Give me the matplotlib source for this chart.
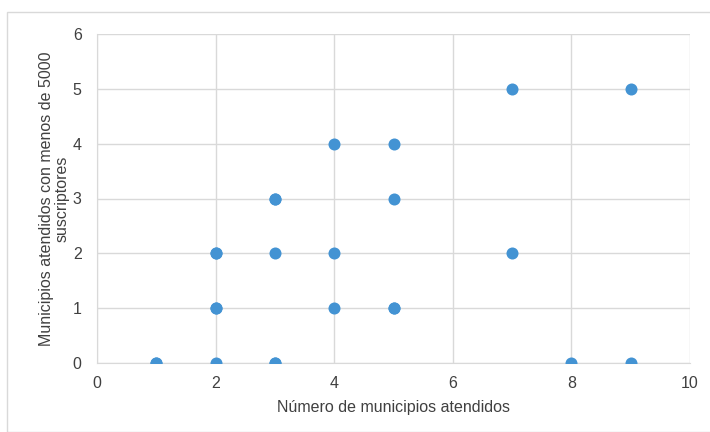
import matplotlib
matplotlib.use("Agg")
import matplotlib.pyplot as plt
from matplotlib.patches import Rectangle

plt.rcParams['font.family'] = ['Liberation Sans', 'DejaVu Sans']

x_vals = [1, 1, 2, 2, 2, 2, 2, 3, 3, 3, 3, 3, 4, 4, 4, 5, 5, 5, 5, 7, 7, 8, 9, 9]
y_vals = [0, 0, 0, 1, 1, 2, 2, 0, 0, 2, 3, 3, 1, 2, 4, 1, 1, 3, 4, 2, 5, 0, 0, 5]
x_ticks = [0, 2, 4, 6, 8, 10]
y_ticks = [0, 1, 2, 3, 4, 5, 6]
x_label = "Número de municipios atendidos"
y_label = "Municipios atendidos con menos de 5000\nsuscriptores"

fig = plt.figure(figsize=(7.10, 4.32), dpi=100)
fig.patches.append(Rectangle((7/710, 0), 1.2, 1 - 12/432, transform=fig.transFigure,
                             fill=False, edgecolor='#d9d9d9', linewidth=1.0))
ax = fig.add_axes([97/710, 1 - 363/432, (690-97)/710, (363-34)/432])

ax.scatter(x_vals, y_vals, s=75, color='#4393d3', zorder=3, linewidths=0)
ax.set_xlim(0, 10)
ax.set_ylim(0, 6)
ax.set_xticks(x_ticks)
ax.set_yticks(y_ticks)
ax.grid(True, color='#d9d9d9', linewidth=1.0)
ax.set_axisbelow(True)
for s in ['top', 'right']:
    ax.spines[s].set_visible(False)
for s in ['left', 'bottom']:
    ax.spines[s].set_color('#d9d9d9')
ax.tick_params(length=0, labelsize=11.5, colors='#404040', pad=9)
ax.tick_params(axis='y', pad=11)
ax.set_xlabel(x_label, fontsize=11.5, color='#404040', labelpad=7)
ax.set_ylabel(y_label, fontsize=11.5, color='#404040', labelpad=2, linespacing=1.05)

fig.savefig("out.png", dpi=100)
